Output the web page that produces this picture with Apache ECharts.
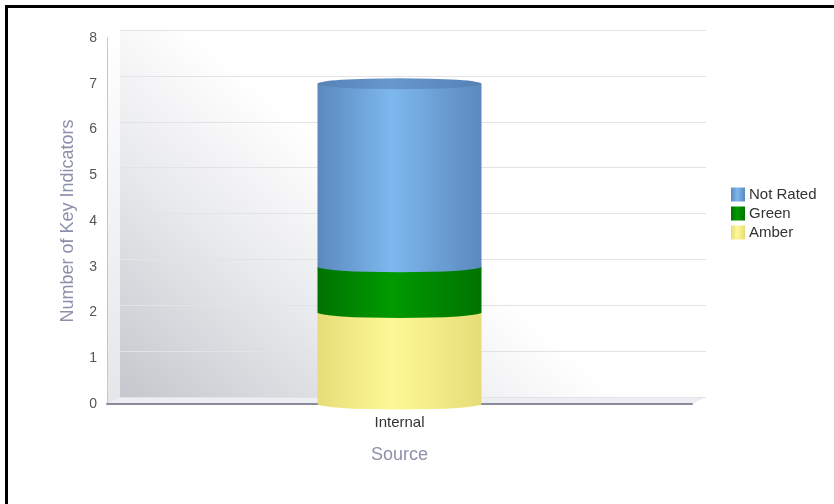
<!DOCTYPE html>
<html>
<head>
<meta charset="utf-8">
<script src="https://cdn.jsdelivr.net/npm/echarts@6/dist/echarts.min.js"></script>
<style>
  html, body { margin: 0; padding: 0; background: #fff; }
  #chart { width: 834px; height: 504px; }
</style>
</head>
<body>
<div id="chart"></div>
<script>
// data
const categories = ['Internal']
const amber = [2]
const green = [1]
const notRated = [4]
const yTicks = [0, 1, 2, 3, 4, 5, 6, 7, 8]

// running totals for the cylinder caps
const amberTop = amber.map(v => v)
const greenTop = amber.map((v, i) => v + green[i])
const notRatedTop = greenTop.map((v, i) => v + notRated[i])
const zeros = amber.map(() => 0)

const chart = echarts.init(document.getElementById('chart'))

// horizontal gradient so the bar reads like a cylinder
const cyl = (edge, light) => new echarts.graphic.LinearGradient(0, 0, 1, 0, [
  { offset: 0, color: edge },
  { offset: 0.45, color: light },
  { offset: 1, color: edge }
])

const blueFill = cyl('#5b89bd', '#7db8ee')
const greenFill = cyl('#007300', '#009a00')
const amberFill = cyl('#e6dd78', '#fdf896')
const capFill = cyl('#5682b6', '#6797cc')

const BAR_W = 164
const font = 'Liberation Sans, Arial, sans-serif'

const cap = (name, data, fill, z) => ({
  name: name,
  type: 'pictorialBar',
  xAxisIndex: 1,
  yAxisIndex: 1,
  symbol: 'circle',
  symbolSize: [BAR_W, 11],
  symbolPosition: 'end',
  symbolOffset: [0, '-50%'],
  barWidth: BAR_W,
  barGap: '-100%',
  z: z,
  itemStyle: { color: fill },
  data: data
})

const option = {
  animation: false,
  textStyle: { fontFamily: font },
  legend: {
    orient: 'vertical',
    left: 731,
    top: 187,
    padding: 0,
    itemWidth: 14,
    itemHeight: 14,
    itemGap: 4,
    icon: 'rect',
    textStyle: { fontSize: 15, color: '#333', fontFamily: font, padding: [0, 0, 0, -1] },
    data: ['Not Rated', 'Green', 'Amber']
  },
  graphic: [
    // frame (top and left edges only)
    { type: 'rect', shape: { x: 5, y: 5, width: 829, height: 3 }, style: { fill: '#000' } },
    { type: 'rect', shape: { x: 5, y: 5, width: 3, height: 499 }, style: { fill: '#000' } },
    // floor of the 3d box
    { type: 'polygon', z: -1, shape: { points: [[107, 404], [120, 397], [706, 397], [692, 404]] },
      style: { fill: '#eceef2' } },
    // left wall of the 3d box
    { type: 'polygon', z: -1, shape: { points: [[107, 38], [120, 30], [120, 397], [107, 404]] },
      style: { fill: new echarts.graphic.LinearGradient(0, 0, 0, 1, [
        { offset: 0, color: '#ffffff' }, { offset: 1, color: '#e4e6ea' }]) } }
  ],
  grid: [
    { // back wall
      left: 120, right: 128, top: 30, bottom: 107,
      show: true, borderWidth: 0,
      backgroundColor: new echarts.graphic.LinearGradient(0, 1, 0.4, 0.25, [
        { offset: 0, color: '#c4c7cd' },
        { offset: 0.5, color: '#e8e9ec' },
        { offset: 0.9, color: '#ffffff' }
      ])
    },
    { // front plane with the axes
      left: 107, right: 142, top: 38, bottom: 100
    }
  ],
  xAxis: [
    { gridIndex: 0, type: 'category', data: categories, show: false },
    {
      gridIndex: 1,
      type: 'category',
      data: categories,
      axisLine: { lineStyle: { color: '#8a8a9c', width: 2 } },
      axisTick: { show: false },
      axisLabel: { color: '#333', fontSize: 15, margin: 11 },
      name: 'Source',
      nameLocation: 'middle',
      nameGap: 42,
      nameTextStyle: { color: '#8d90aa', fontSize: 18 }
    }
  ],
  yAxis: [
    {
      gridIndex: 0, type: 'value', min: 0, max: 8, interval: 1,
      axisLine: { show: false }, axisTick: { show: false }, axisLabel: { show: false },
      splitLine: { lineStyle: { color: '#e2e3e6' } }
    },
    {
      gridIndex: 1, type: 'value', min: yTicks[0], max: yTicks[yTicks.length - 1], interval: 1,
      axisLine: { show: true, lineStyle: { color: '#c4c7d0' } },
      axisTick: { show: false },
      axisLabel: { color: '#555', fontSize: 14, margin: 10 },
      splitLine: { show: false },
      name: 'Number of Key Indicators',
      nameLocation: 'middle',
      nameGap: 30,
      nameTextStyle: { color: '#8d90aa', fontSize: 18 }
    }
  ],
  series: [
    { name: 'Amber', type: 'bar', stack: 'k', xAxisIndex: 1, yAxisIndex: 1,
      barWidth: BAR_W, barGap: '-100%', itemStyle: { color: amberFill }, data: amber },
    { name: 'Green', type: 'bar', stack: 'k', xAxisIndex: 1, yAxisIndex: 1,
      barWidth: BAR_W, barGap: '-100%', itemStyle: { color: greenFill }, data: green },
    { name: 'Not Rated', type: 'bar', stack: 'k', xAxisIndex: 1, yAxisIndex: 1,
      barWidth: BAR_W, barGap: '-100%', itemStyle: { color: blueFill }, data: notRated },
    cap('amberBottom', zeros, amberFill, 1),
    cap('greenBottom', amberTop, greenFill, 3),
    cap('blueBottom', greenTop, blueFill, 4),
    cap('blueTop', notRatedTop, capFill, 5)
  ]
}

chart.setOption(option)
</script>
</body>
</html>
